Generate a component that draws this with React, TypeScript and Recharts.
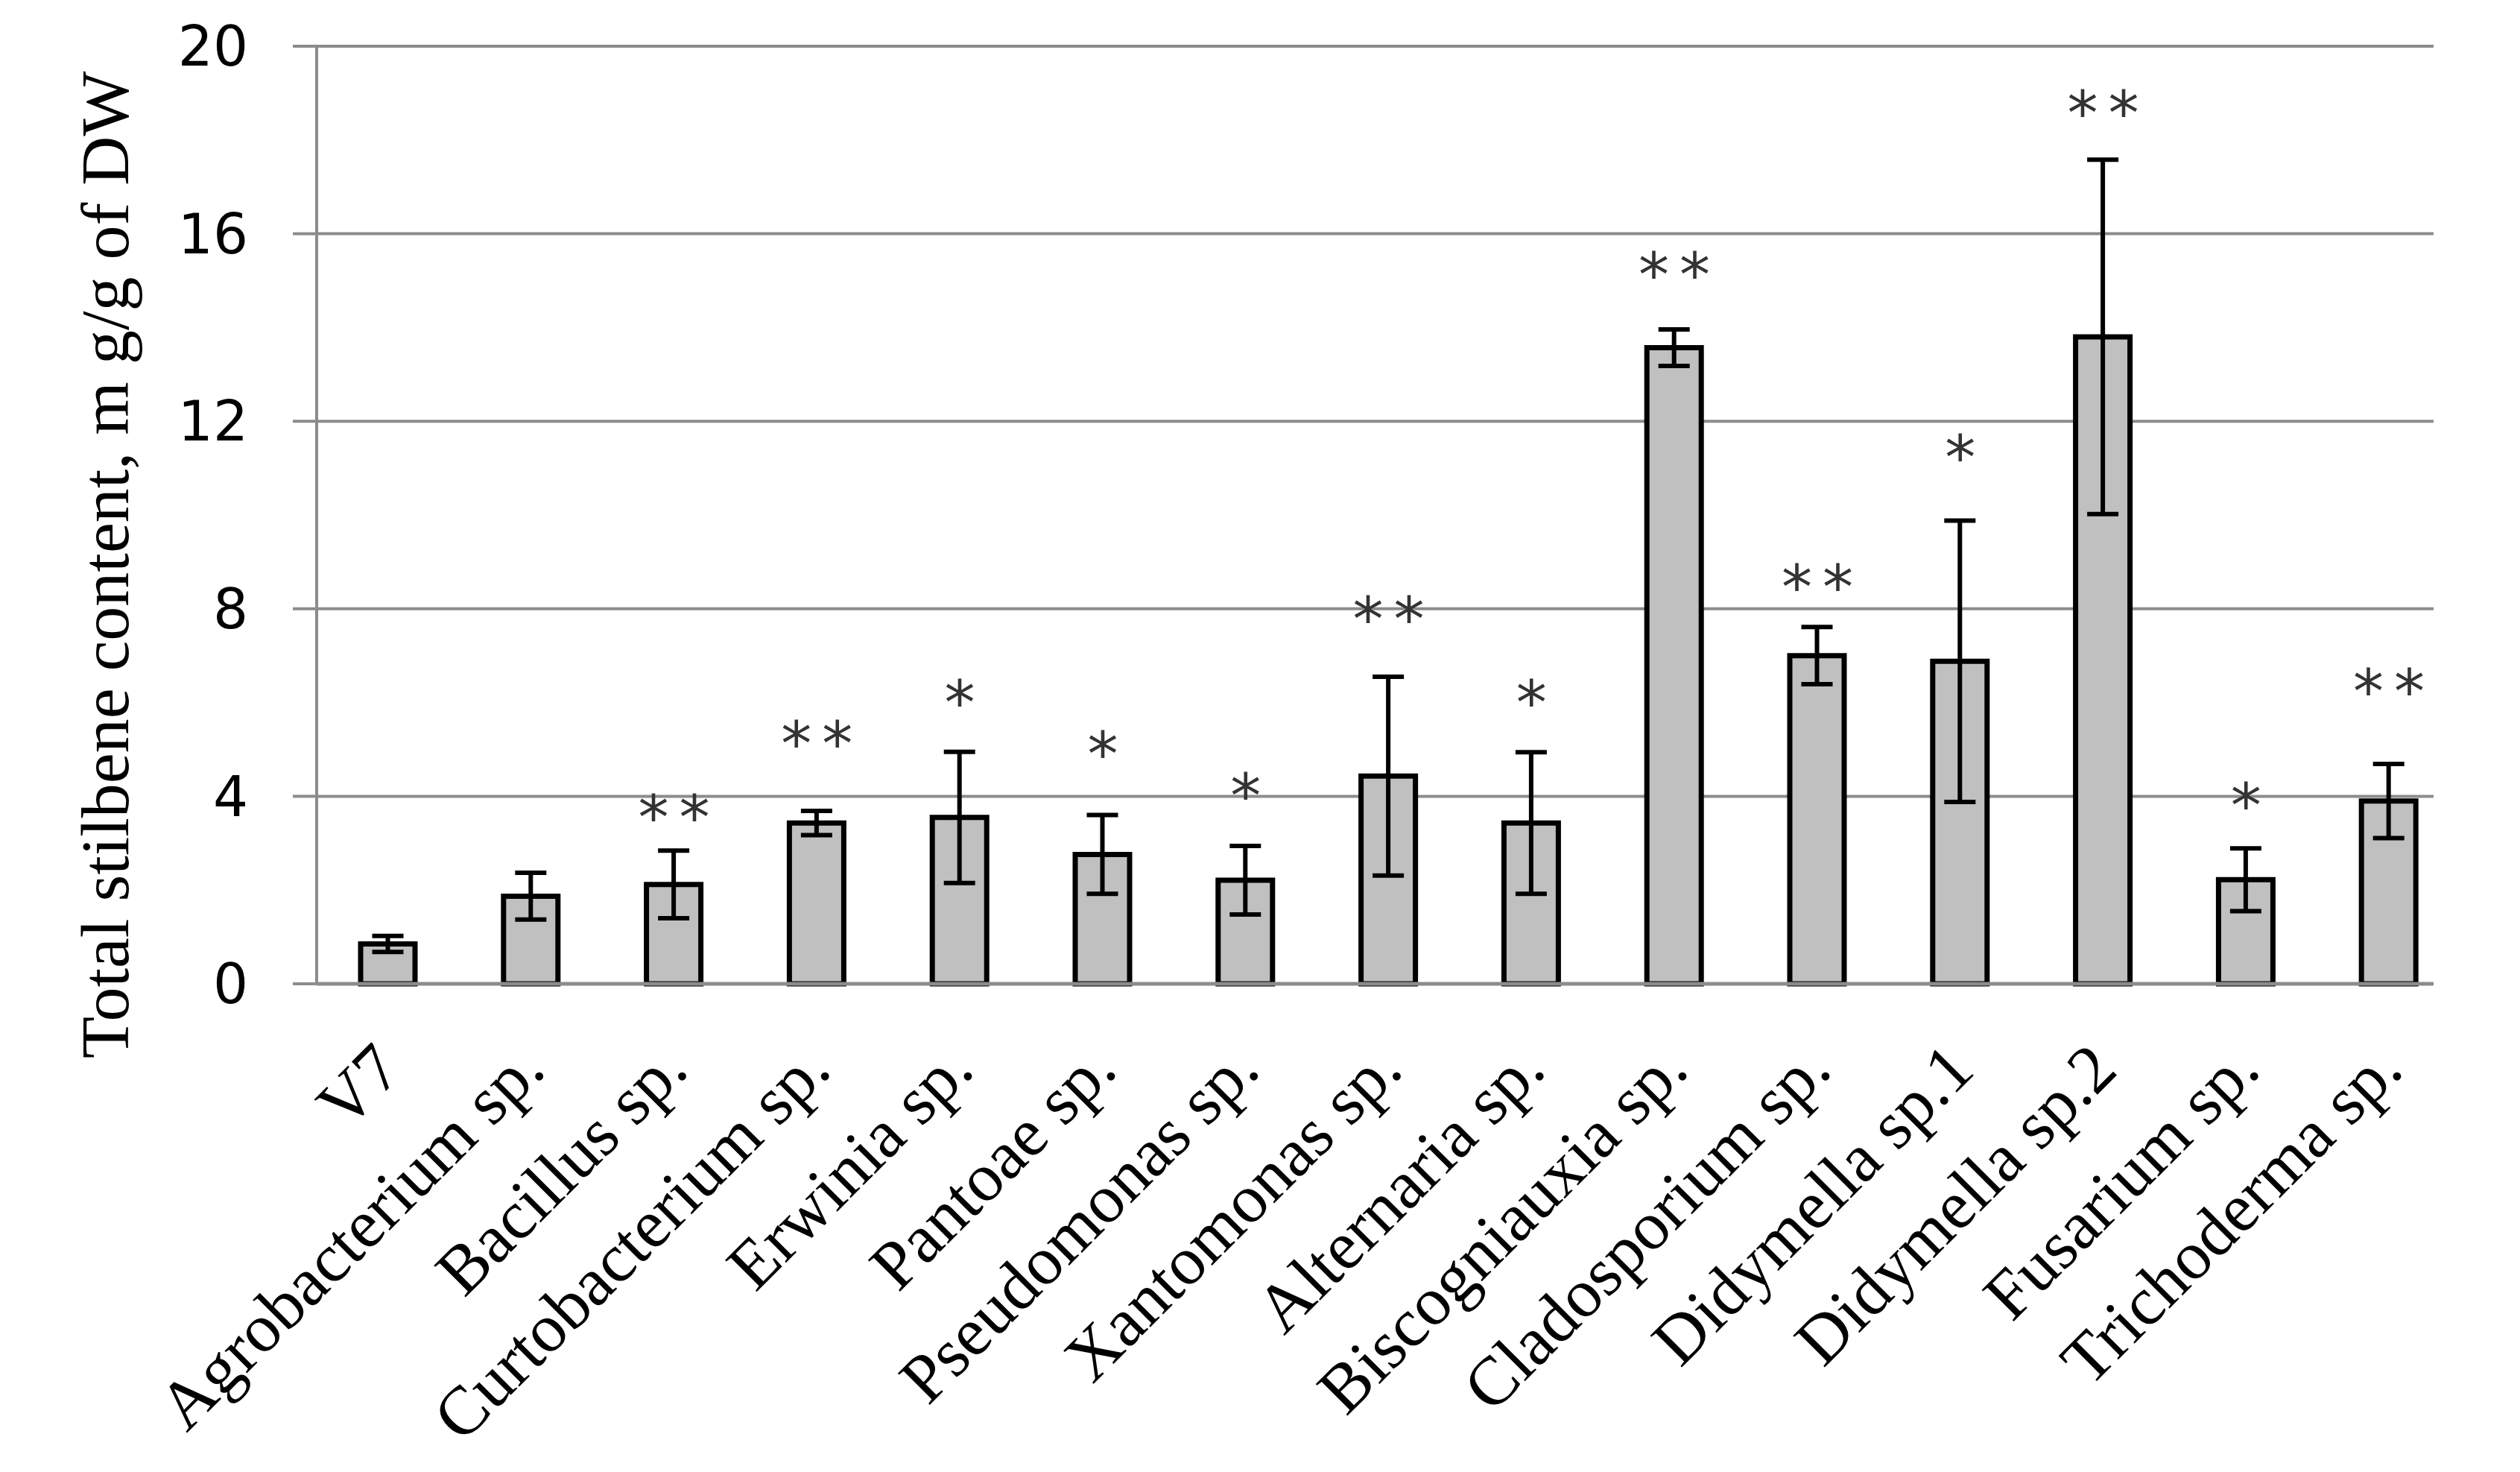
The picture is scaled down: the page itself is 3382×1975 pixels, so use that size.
import React from 'react';
import { ComposedChart, Bar, ErrorBar, XAxis, YAxis, CartesianGrid, Scatter } from 'recharts';

const categories = [
  'V7',
  'Agrobacterium sp.',
  'Bacillus sp.',
  'Curtobacterium sp.',
  'Erwinia  sp.',
  'Pantoae sp.',
  'Pseudomonas sp.',
  'Xantomonas sp.',
  'Alternaria sp.',
  'Biscogniauxia sp.',
  'Cladosporium sp.',
  'Didymella sp.1',
  'Didymella sp.2',
  'Fusarium sp.',
  'Trichoderma sp.',
];
const means = [0.85, 1.87, 2.12, 3.43, 3.55, 2.76, 2.21, 4.43, 3.43, 13.57, 7.0, 6.88, 13.8, 2.22, 3.9];
const errors = [0.17, 0.5, 0.72, 0.26, 1.4, 0.84, 0.73, 2.12, 1.51, 0.39, 0.61, 3.0, 3.78, 0.67, 0.79];
const sigMarks = ['', '', '**', '**', '*', '*', '*', '**', '*', '**', '**', '*', '**', '*', '**'];
const sigHeights = [null, null, 3.75, 5.32, 6.2, 5.1, 4.21, 7.98, 6.2, 15.33, 8.66, 11.43, 18.78, 4.0, 6.44];
const yTicks = [0, 4, 8, 12, 16, 20];
const yLabel = 'Total stilbene content, m g/g of DW';

const data = categories.map((name, i) => ({
  name,
  mean: means[i],
  err: errors[i],
  sig: sigMarks[i],
  starAt: sigHeights[i],
}));

const GRID = '#8c8c8c';
const SERIF = "'Liberation Serif', 'Times New Roman', serif";
const SANS = "'DejaVu Sans', Verdana, sans-serif";

const XTick = (props: any) => {
  const { x, y, payload } = props;
  const px = x + 22;
  const py = y + 8;
  return (
    <text
      x={px}
      y={py}
      transform={`rotate(-45, ${px}, ${py})`}
      textAnchor="end"
      fontFamily={SERIF}
      fontSize={92}
      fill="#000"
    >
      {payload.value}
    </text>
  );
};

const StarShape = (props: any) => {
  const { cx, cy, payload } = props;
  if (!payload || !payload.sig) return null;
  const n = payload.sig.length;
  const items = [];
  for (let k = 0; k < n; k++) {
    const sx = cx + (k - (n - 1) / 2) * 55;
    items.push(
      <text key={k} x={sx} y={cy + 42} textAnchor="middle" fontFamily={SANS} fontSize={82} fill="#333">
        *
      </text>
    );
  }
  return <g>{items}</g>;
};

const YLabel = () => (
  <text
    x={172}
    y={758}
    transform="rotate(-90, 172, 758)"
    textAnchor="middle"
    fontFamily={SERIF}
    fontSize={92}
    fill="#000"
  >
    {yLabel}
  </text>
);

export default function App() {
  return (
    <div style={{ position: 'absolute', left: 0, top: 0, background: '#fff' }}>
      <ComposedChart
        width={3382}
        height={1975}
        data={data}
        margin={{ top: 62, right: 116, bottom: 0, left: 0 }}
      >
        <CartesianGrid horizontal vertical={false} stroke={GRID} strokeWidth={4} />
        <XAxis
          dataKey="name"
          interval={0}
          height={655}
          tickLine={false}
          tickSize={0}
          tickMargin={111}
          axisLine={{ stroke: GRID, strokeWidth: 5 }}
          tick={<XTick />}
          padding={{ left: 0, right: -36 }}
        />
        <YAxis
          width={425}
          domain={[0, 20]}
          ticks={yTicks}
          interval={0}
          tickSize={32}
          tickMargin={60}
          tickLine={{ stroke: GRID, strokeWidth: 4 }}
          axisLine={{ stroke: GRID, strokeWidth: 4 }}
          tick={{ fontFamily: SANS, fontSize: 74, fill: '#000' }}
          label={<YLabel />}
        />
        <Bar dataKey="mean" fill="#c0c0c0" stroke="#000" strokeWidth={7} barSize={73} isAnimationActive={false}>
          <ErrorBar dataKey="err" width={21} stroke="#000" strokeWidth={6} direction="y" />
        </Bar>
        <Scatter dataKey="starAt" shape={<StarShape />} isAnimationActive={false} />
      </ComposedChart>
    </div>
  );
}
